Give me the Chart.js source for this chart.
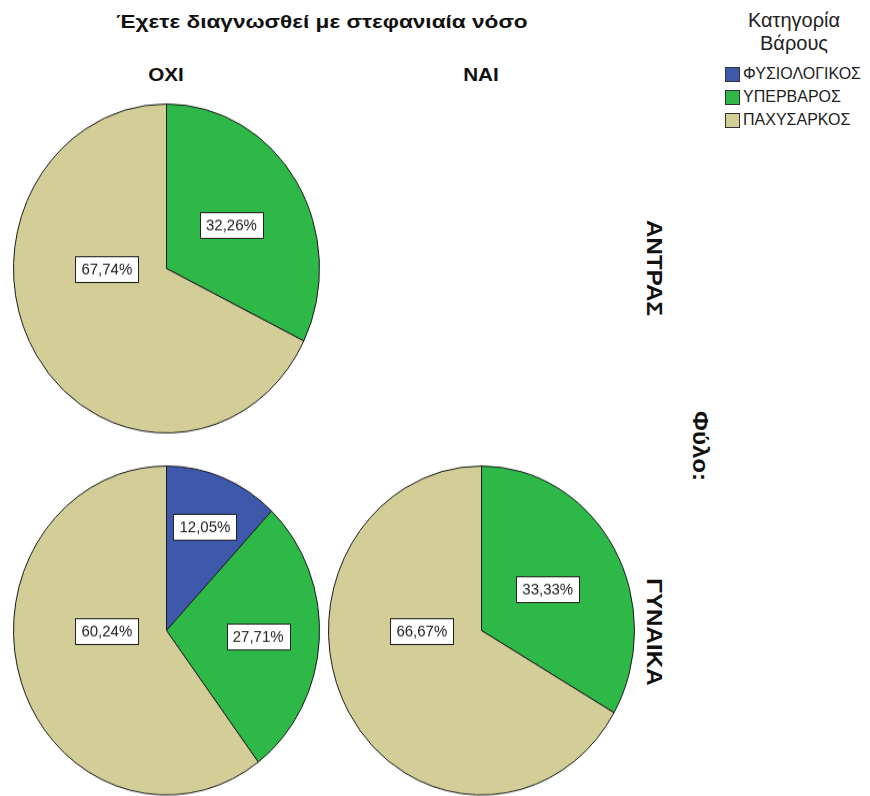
<!DOCTYPE html>
<html>
<head>
<meta charset="utf-8">
<script src="https://cdn.jsdelivr.net/npm/chart.js@4.4.0/dist/chart.umd.min.js"></script>
<style>
	body {
		margin: 0;
		width: 870px;
		height: 796px;
		background: #fff;
		position: relative;
		overflow: hidden;
		font-family: 'Liberation Sans', Arial, sans-serif;
		color: #111;
	}
	.txt {
		position: absolute;
		white-space: nowrap;
		transform: translate(-50%, -50%);
	}
	.title {
		font-weight: bold;
		font-size: 19px;
		transform: translate(-50%, -50%) scaleX(1.19);
	}
	.col {
		font-weight: bold;
		font-size: 18px;
		transform: translate(-50%, -50%) scaleX(1.15);
	}
	.side {
		font-weight: bold;
		font-size: 22px;
		transform: translate(-50%, -50%) rotate(90deg) scaleX(1.1);
	}
	.pie {
		position: absolute;
		width: 307px;
		height: 307px;
		transform: scaleY(1.075);
	}
	.legend-title { font-size: 20px; color: #222; text-align: center; line-height: 23px; }
	.legend-item {
		position: absolute;
		left: 725px;
		font-size: 16px;
		color: #222;
		display: flex;
		align-items: center;
		height: 20px;
	}
	.legend-item span.box {
		width: 13px;
		height: 13px;
		border: 1px solid #333;
		margin-right: 3px;
	}
</style>
</head>
<body>
<div class="txt title" style="left:322px;top:22px">Έχετε διαγνωσθεί με στεφανιαία νόσο</div>
<div id="colNo" class="txt col" style="left:166px;top:75px"></div>
<div id="colYes" class="txt col" style="left:481px;top:75px"></div>
<div id="rowMen" class="txt side" style="left:654px;top:268px"></div>
<div id="rowWomen" class="txt side" style="left:654px;top:632px"></div>
<div class="txt side" style="left:700px;top:446px">Φύλο:</div>

<div class="txt legend-title" style="left:794px;top:32px">Κατηγορία<br>Βάρους</div>
<div id="legend"></div>

<div class="pie" style="left:13px;top:115px"><canvas id="menNoChart" width="307" height="307"></canvas></div>
<div class="pie" style="left:13px;top:477px"><canvas id="womenNoChart" width="307" height="307"></canvas></div>
<div class="pie" style="left:328px;top:477px"><canvas id="womenYesChart" width="307" height="307"></canvas></div>

<script>
const weightCategories = ['ΦΥΣΙΟΛΟΓΙΚΟΣ', 'ΥΠΕΡΒΑΡΟΣ', 'ΠΑΧΥΣΑΡΚΟΣ'];
const categoryColors = ['#3E58AC', '#2EB848', '#D3CE97'];
const diagnosisLabels = ['ΟΧΙ', 'ΝΑΙ'];
const sexLabels = ['ΑΝΤΡΑΣ', 'ΓΥΝΑΙΚΑ'];

// percentages per weight category (men with diagnosis: no cases)
const menNo = [0, 32.26, 67.74];
const womenNo = [12.05, 27.71, 60.24];
const womenYes = [0, 33.33, 66.67];

document.getElementById('colNo').textContent = diagnosisLabels[0];
document.getElementById('colYes').textContent = diagnosisLabels[1];
document.getElementById('rowMen').textContent = sexLabels[0];
document.getElementById('rowWomen').textContent = sexLabels[1];

const legendBox = document.getElementById('legend');
weightCategories.forEach((name, i) => {
	const item = document.createElement('div');
	item.className = 'legend-item';
	item.style.top = 64 + i * 23 + 'px';
	item.innerHTML = `<span class="box" style="background:${categoryColors[i]}"></span>${name}`;
	legendBox.appendChild(item);
});

// boxed percentage labels inside the slices
const pctLabels = {
	id: 'pctLabels',
	afterDatasetsDraw(chart) {
		const ctx = chart.ctx;
		const values = chart.data.datasets[0].data;
		chart.getDatasetMeta(0).data.forEach((arc, i) => {
			if (!values[i]) return;
			const { x, y, startAngle, endAngle, outerRadius } = arc.getProps(
				['x', 'y', 'startAngle', 'endAngle', 'outerRadius'],
				true,
			);
			const span = endAngle - startAngle;
			let angle = (startAngle + endAngle) / 2;
			let dist = span < 0.9 ? 0.68 : span < 1.9 ? 0.6 : 0.5;
			// big slices get their label on the horizontal, left of centre
			if (span > Math.PI && startAngle < Math.PI && endAngle > Math.PI) {
				angle = Math.PI;
				dist = 0.39;
			}
			const lx = x + Math.cos(angle) * outerRadius * dist;
			const ly = y + Math.sin(angle) * outerRadius * dist;
			const text = values[i].toFixed(2).replace('.', ',') + '%';

			ctx.save();
			ctx.font = '15px "Liberation Sans", Arial, sans-serif';
			const w = Math.round(ctx.measureText(text).width + 12);
			const h = 24;
			const bx = Math.round(lx - w / 2) + 0.5;
			const by = Math.round(ly - h / 2) + 0.5;
			ctx.fillStyle = '#fff';
			ctx.fillRect(bx, by, w, h);
			ctx.strokeStyle = '#222';
			ctx.lineWidth = 1;
			ctx.strokeRect(bx, by, w, h);
			ctx.fillStyle = '#222';
			ctx.textAlign = 'center';
			ctx.textBaseline = 'middle';
			ctx.fillText(text, lx, ly + 1);
			ctx.restore();
		});
	},
};

const pieConfig = (data) => ({
	type: 'pie',
	data: {
		labels: weightCategories,
		datasets: [
			{
				data,
				backgroundColor: categoryColors,
				borderColor: '#1a1a1a',
				borderWidth: 1,
			},
		],
	},
	options: {
		responsive: false,
		animation: false,
		events: [],
		plugins: {
			legend: { display: false },
			tooltip: { enabled: false },
		},
	},
	plugins: [pctLabels],
});

new Chart(document.getElementById('menNoChart'), pieConfig(menNo));
new Chart(document.getElementById('womenNoChart'), pieConfig(womenNo));
new Chart(document.getElementById('womenYesChart'), pieConfig(womenYes));
</script>
</body>
</html>
